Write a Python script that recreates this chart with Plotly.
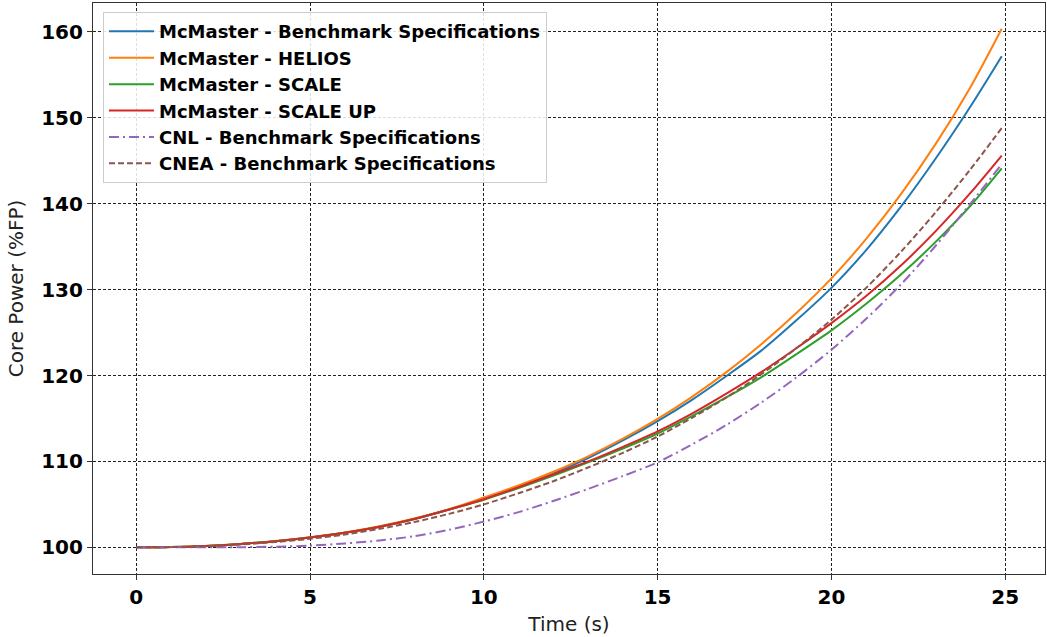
import plotly.graph_objects as go

# Time samples (s)
time_s = [0, 1, 2, 3, 4, 5, 6, 7, 8, 9, 10, 11, 12, 13, 14, 15, 16, 17, 18, 19,
          20, 21, 22, 23, 24, 24.9]

# Core power (%FP) per code / specification
mcmaster_benchmark = [100.0, 100.04, 100.17, 100.4, 100.72, 101.15, 101.7, 102.4, 103.3, 104.4,
                      105.7, 107.05, 108.6, 110.4, 112.45, 114.7, 117.2, 120.0, 122.95, 126.45,
                      130.2, 134.6, 139.65, 145.25, 151.3, 157.15]
mcmaster_helios = [100.0, 100.04, 100.17, 100.4, 100.73, 101.17, 101.73, 102.45, 103.35, 104.45,
                   105.8, 107.2, 108.8, 110.6, 112.65, 114.95, 117.55, 120.45, 123.7, 127.3,
                   131.3, 135.9, 141.1, 146.95, 153.55, 160.35]
mcmaster_scale = [100.0, 100.04, 100.17, 100.4, 100.72, 101.15, 101.7, 102.4, 103.3, 104.4,
                  105.55, 106.9, 108.35, 109.9, 111.5, 113.25, 115.3, 117.5, 119.85, 122.5,
                  125.25, 128.35, 131.75, 135.55, 139.75, 144.1]
mcmaster_scale_up = [100.0, 100.04, 100.17, 100.4, 100.72, 101.15, 101.7, 102.4, 103.3, 104.4,
                     105.6, 107.0, 108.5, 110.0, 111.7, 113.5, 115.6, 117.95, 120.45, 123.2,
                     126.1, 129.25, 132.8, 136.8, 141.25, 145.6]
cnl_benchmark = [100.0, 100.0, 100.0, 100.02, 100.08, 100.2, 100.45, 100.8, 101.3, 102.05,
                 103.0, 104.1, 105.4, 106.8, 108.3, 109.9, 112.0, 114.3, 116.9, 119.8,
                 123.0, 126.6, 130.6, 135.1, 140.0, 144.6]
cnea_benchmark = [100.0, 100.03, 100.13, 100.33, 100.62, 101.0, 101.5, 102.15, 102.95, 103.9,
                  105.0, 106.3, 107.7, 109.3, 111.0, 112.9, 115.1, 117.5, 120.2, 123.2,
                  126.5, 130.2, 134.4, 139.0, 144.0, 148.8]

series = [
    ("McMaster - Benchmark Specifications", mcmaster_benchmark, "#1f77b4", "solid"),
    ("McMaster - HELIOS", mcmaster_helios, "#ff7f0e", "solid"),
    ("McMaster - SCALE", mcmaster_scale, "#2ca02c", "solid"),
    ("McMaster - SCALE UP", mcmaster_scale_up, "#d62728", "solid"),
    ("CNL - Benchmark Specifications", cnl_benchmark, "#9467bd", "10px,4px,2px,4px"),
    ("CNEA - Benchmark Specifications", cnea_benchmark, "#8c564b", "6px,3px"),
]

x_ticks = [0, 5, 10, 15, 20, 25]
y_ticks = [100, 110, 120, 130, 140, 150, 160]

fig = go.Figure()
for name, vals, color, dash in series:
    fig.add_trace(go.Scatter(
        x=time_s, y=vals, name=name, mode="lines",
        line=dict(color=color, width=2, dash=dash, shape="spline", smoothing=0.8),
    ))

axis_common = dict(
    showline=True, linecolor="#333333", linewidth=1.2, mirror=True,
    ticks="outside", ticklen=5, tickwidth=1.2, tickcolor="#333333",
    showgrid=True, gridcolor="#222222", gridwidth=1, griddash="3px,2px",
    zeroline=False,
    tickfont=dict(family="DejaVu Sans", size=20, color="black", weight="bold"),
    title_font=dict(family="DejaVu Sans", size=20, color="#222222"),
)

fig.update_layout(
    width=1047, height=637,
    margin=dict(l=93, r=2, t=3, b=63),
    paper_bgcolor="white", plot_bgcolor="white",
    font=dict(family="DejaVu Sans"),
    xaxis=dict(axis_common, range=[-1.245, 26.145], tickvals=x_ticks,
               title=dict(text="Time (s)", standoff=8)),
    yaxis=dict(axis_common, range=[96.9, 163.35], tickvals=y_ticks,
               title=dict(text="Core Power (%FP)", standoff=12)),
    legend=dict(
        x=0.0105, y=0.984, xanchor="left", yanchor="top",
        bgcolor="rgba(255,255,255,0.85)", bordercolor="#cccccc", borderwidth=1,
        font=dict(family="DejaVu Sans", size=18, color="black", weight="bold"),
        itemwidth=45, tracegroupgap=0,
    ),
    showlegend=True,
)

fig.write_html("out.html")
